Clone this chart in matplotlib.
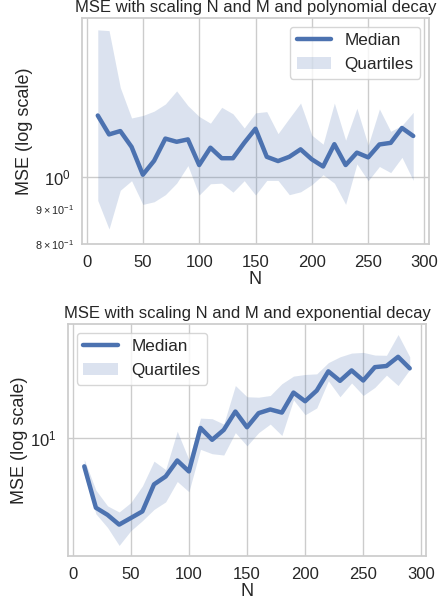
import numpy as np
import matplotlib
matplotlib.use("Agg")
import matplotlib.pyplot as plt
import matplotlib.ticker as mticker
import seaborn as sns

sns.set_theme(style="whitegrid")
plt.rcParams['font.family'] = ['Liberation Sans', 'DejaVu Sans']

N = list(range(10, 300, 10))

# Polynomial decay: median and quartiles of the MSE
poly_median = [1.228, 1.153, 1.166, 1.106, 1.008, 1.056, 1.137, 1.125, 1.134, 1.041,
               1.103, 1.065, 1.065, 1.121, 1.175, 1.070, 1.055, 1.070, 1.097, 1.061,
               1.036, 1.116, 1.041, 1.085, 1.068, 1.115, 1.121, 1.178, 1.147]
poly_upper = [1.634, 1.630, 1.348, 1.218, 1.228, 1.246, 1.276, 1.333, 1.269, 1.224,
              1.197, 1.262, 1.235, 1.178, 1.239, 1.244, 1.156, 1.217, 1.280, 1.150,
              1.116, 1.280, 1.131, 1.258, 1.112, 1.255, 1.165, 1.188, 1.241]
poly_lower = [0.925, 0.841, 0.957, 0.988, 0.913, 0.921, 0.943, 0.980, 1.039, 0.942,
              0.978, 0.980, 0.951, 0.988, 0.942, 0.989, 0.989, 0.943, 0.952, 0.975,
              1.008, 0.980, 0.913, 1.045, 0.988, 1.036, 1.015, 1.068, 0.989]

# Exponential decay: median and quartiles of the MSE
exp_median = [6.9, 3.98, 3.62, 3.18, 3.47, 3.79, 5.43, 6.03, 7.46, 6.45,
              11.5, 9.82, 11.2, 14.3, 11.6, 14.0, 14.7, 14.1, 18.4, 16.4,
              18.9, 24.4, 21.5, 24.7, 21.6, 25.8, 26.2, 29.6, 25.4]
exp_upper = [7.55, 5.03, 4.08, 3.76, 4.26, 5.31, 7.39, 6.61, 11.0, 7.55,
             13.1, 13.0, 12.1, 20.2, 17.4, 17.3, 17.7, 20.7, 22.9, 23.4,
             23.6, 27.4, 29.6, 31.1, 31.4, 30.3, 30.2, 39.8, 29.6]
exp_lower = [6.17, 3.67, 3.06, 2.41, 2.93, 3.35, 3.89, 4.30, 5.64, 4.92,
             8.65, 8.16, 8.02, 10.8, 9.06, 10.8, 12.1, 10.4, 16.7, 13.7,
             15.0, 21.5, 17.4, 20.9, 17.7, 19.7, 23.2, 20.2, 25.0]

poly_minor_ticks = [0.8, 0.9]
poly_minor_labels = [r"$\mathdefault{8\times10^{-1}}$", r"$\mathdefault{9\times10^{-1}}$"]

W, H = 443, 603
fig = plt.figure(figsize=(W / 100, H / 100), dpi=100)

def box(left, top, right, bottom):
    return [left / W, 1 - bottom / H, (right - left) / W, (bottom - top) / H]

line_color = "#4C72B0"

def panel(ax, med, lo, hi, title, loc):
    ax.plot(N, med, color=line_color, lw=3.2, label="Median")
    ax.fill_between(N, lo, hi, color=line_color, alpha=0.2, lw=0, label="Quartiles")
    ax.set_yscale("log")
    ax.set_title(title, fontsize=12.0, pad=4)
    ax.set_xlabel("N", fontsize=13, labelpad=1)
    ax.tick_params(axis="both", which="major", labelsize=12, pad=2)
    ax.tick_params(axis="y", which="minor", labelsize=7.8, pad=2)
    ax.set_xticks([0, 50, 100, 150, 200, 250, 300])
    ax.legend(loc=loc, fontsize=12.3, handlelength=2.0)

ax1 = fig.add_axes(box(82, 18, 429, 244))
panel(ax1, poly_median, poly_lower, poly_upper,
      "MSE with scaling N and M and polynomial decay", "upper right")
ax1.set_ylim(0.8, 1.70)
ax1.yaxis.set_minor_locator(mticker.FixedLocator(poly_minor_ticks))
ax1.yaxis.set_minor_formatter(mticker.FixedFormatter(poly_minor_labels))
ax1.set_ylabel("MSE (log scale)", fontsize=13, labelpad=1)

ax2 = fig.add_axes(box(68, 324, 426, 556))
panel(ax2, exp_median, exp_lower, exp_upper,
      "MSE with scaling N and M and exponential decay", "upper left")
ax2.set_ylabel("MSE (log scale)", fontsize=13, labelpad=2)

fig.savefig("out.png", dpi=100)
